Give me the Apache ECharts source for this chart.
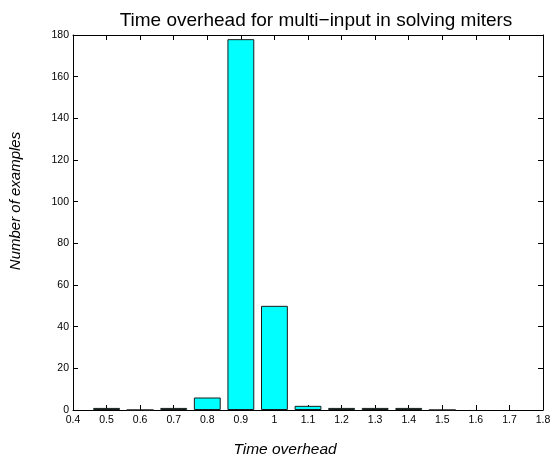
<!DOCTYPE html>
<html><head><meta charset="utf-8">
<script src="https://cdn.jsdelivr.net/npm/echarts@6/dist/echarts.min.js"></script>
<style>html,body{margin:0;padding:0;background:#fff}#c{width:556px;height:460px}</style>
</head><body><div id="c"></div>
<script>
const binCenters = [0.5, 0.6, 0.7, 0.8, 0.9, 1.0, 1.1, 1.2, 1.3, 1.4, 1.5];
const counts = [1, 0, 1, 6, 178, 50, 2, 1, 1, 1, 0];
const title = 'Time overhead for multi\u2212input in solving miters';
const xName = 'Time overhead';
const yName = 'Number of examples';

const chart = echarts.init(document.getElementById('c'), null, {renderer: 'canvas'});
const font = 'Liberation Sans, Arial, Helvetica, sans-serif';
const axisCommon = {
  axisLine: {show: true, onZero: false, lineStyle: {color: '#000', width: 1}},
  axisTick: {show: true, inside: true, length: 5, lineStyle: {color: '#000'}},
  splitLine: {show: false}
};
chart.setOption({
  animation: false,
  title: {text: title, left: 311, textAlign: 'center', top: 6,
    textStyle: {fontFamily: font, fontSize: 19, fontWeight: 'normal', color: '#000'}},
  grid: {left: 73, right: 13, top: 35, bottom: 50},
  xAxis: [
    Object.assign({type: 'value', min: 0.4, max: 1.8, interval: 0.1, position: 'bottom',
      axisLabel: {fontFamily: font, fontSize: 10.5, color: '#000', margin: 5, formatter: v => String(+v.toFixed(1))}}, axisCommon),
    Object.assign({type: 'value', min: 0.4, max: 1.8, interval: 0.1, position: 'top', axisLabel: {show: false}}, axisCommon)
  ],
  yAxis: [
    Object.assign({type: 'value', min: 0, max: 180, interval: 20, position: 'left',
      axisLabel: {fontFamily: font, fontSize: 10.5, color: '#000', margin: 4}}, axisCommon),
    Object.assign({type: 'value', min: 0, max: 180, interval: 20, position: 'right', axisLabel: {show: false}}, axisCommon)
  ],
  graphic: [
    {type: 'text', x: 285, y: 450, style: {text: xName, fontFamily: font, fontSize: 15.5, fontStyle: 'italic',
      fill: '#000', textAlign: 'center', textVerticalAlign: 'middle'}},
    {type: 'text', x: 16, y: 201, rotation: Math.PI / 2, style: {text: yName, fontFamily: font, fontSize: 15, fontStyle: 'italic',
      fill: '#000', textAlign: 'center', textVerticalAlign: 'middle'}}
  ],
  series: [{
    type: 'bar',
    xAxisIndex: 0, yAxisIndex: 0,
    data: binCenters.map((x, i) => [x, counts[i]]),
    barWidth: '80%',
    itemStyle: {color: '#00ffff', borderColor: '#1a1a1a', borderWidth: 1}
  }]
});
</script></body></html>
